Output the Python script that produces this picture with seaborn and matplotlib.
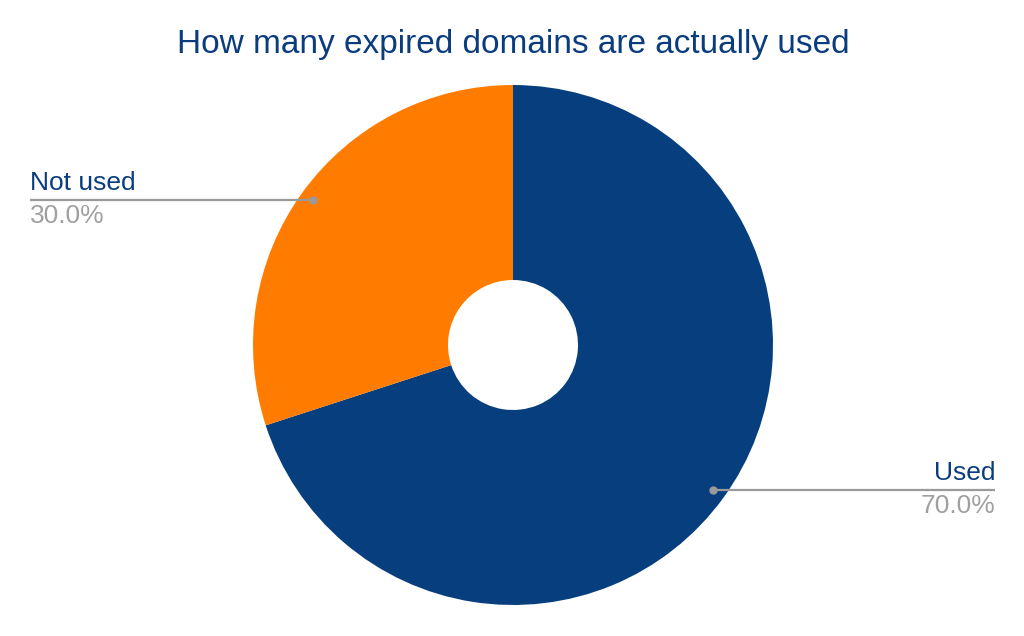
import numpy as np
import seaborn as sns
import matplotlib.pyplot as plt

labels = ['Used', 'Not used']
shares = [70.0, 30.0]
colors = ['#073f7e', '#ff7c00']

sns.set_theme(style='white')
plt.rcParams['font.family'] = ['Liberation Sans', 'DejaVu Sans']

fig = plt.figure(figsize=(10.24, 6.36), dpi=100)
ax = fig.add_axes([0, 0, 1, 1])
R = 260.0  # pie radius in pixels

wedges, _ = ax.pie(shares, colors=colors, startangle=90, counterclock=False,
                   radius=1, wedgeprops=dict(width=0.75, linewidth=0))

# pie() resets the limits, so set them afterwards
ax.set_xlim(-513 / R, (1024 - 513) / R)
ax.set_ylim(-(636 - 345) / R, 345 / R)
ax.set_aspect('equal')
ax.axis('off')

# leader lines and labels
for w, lab, val in zip(wedges, labels, shares):
    mid = np.deg2rad((w.theta1 + w.theta2) / 2)
    px, py = 0.95 * np.cos(mid), 0.95 * np.sin(mid)
    if px > 0:
        xend, ha = (995 - 513) / R, 'right'
    else:
        xend, ha = (30 - 513) / R, 'left'
    ax.plot([px, xend], [py, py], color='#9a9a9a', lw=1.6, solid_capstyle='butt')
    ax.plot(px, py, 'o', color='#9a9a9a', ms=5)
    ax.text(xend, py + 0.02, lab, ha=ha, va='bottom', fontsize=19, color='#0b3d7e')
    ax.text(xend, py - 0.015, f'{val:.1f}%', ha=ha, va='top', fontsize=19, color='#a0a0a0')

fig.text(513 / 1024, 1 - 45 / 636, 'How many expired domains are actually used',
         ha='center', va='center', fontsize=24, color='#0b3d7e')

fig.savefig('out.png', dpi=100, facecolor='white')
